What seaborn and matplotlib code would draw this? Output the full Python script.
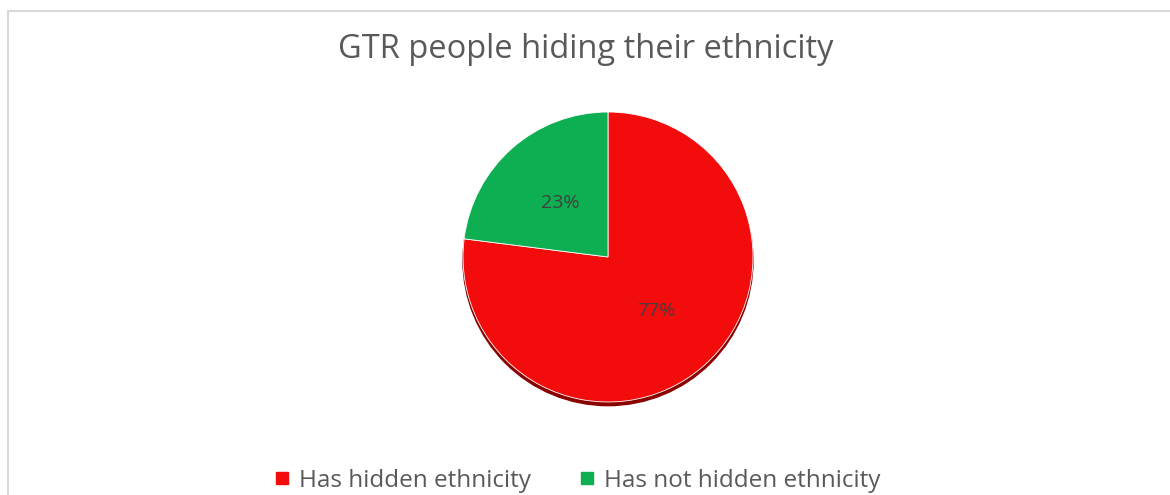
import matplotlib
matplotlib.use("Agg")
import matplotlib.pyplot as plt
import seaborn as sns
from matplotlib.patches import Rectangle, Circle
from matplotlib.lines import Line2D

# Chart data
labels = ["Has hidden ethnicity", "Has not hidden ethnicity"]
shares = [77, 23]
colors = ["#f20c0c", "#0daf52"]
title = "GTR people hiding their ethnicity"

sns.set_theme(style="white")
plt.rcParams["font.family"] = ["Open Sans", "DejaVu Sans"]

W, H = 1170, 495
fig = plt.figure(figsize=(W / 100, H / 100), dpi=100)

# light grey chart border (cut off at right and bottom)
fig.patches.append(Rectangle((8 / W, -0.05), 1.1, (495 - 11) / H + 0.05,
                             transform=fig.transFigure, fill=False,
                             edgecolor="#d9d9d9", linewidth=1.5))

fig.text(586 / W, 1 - 50 / H, title, ha="center", va="center",
         fontsize=23.5, color="#595959")

# pie axes: centre (608, 257), radius 145 px
r = 145
ax = fig.add_axes([(608 - r) / W, (H - 257 - r) / H, 2 * r / W, 2 * r / H])
shadow = Circle((0, -0.025), 1.0, color="#8a0000", zorder=0)
shadow.set_clip_on(False)
ax.add_patch(shadow)
wedges, texts, autotexts = ax.pie(
    shares, colors=colors, startangle=90, counterclock=False,
    autopct="%d%%", pctdistance=0.5, radius=1.0,
    wedgeprops=dict(edgecolor="white", linewidth=0.6),
    textprops=dict(fontsize=14, color="#404040"))
for w in wedges:
    w.set_clip_on(False)
ax.set_xlim(-1, 1)
ax.set_ylim(-1, 1)
ax.set_aspect("equal")
ax.axis("off")

handles = [Line2D([0], [0], marker="s", linestyle="", markersize=8,
                  markerfacecolor=c, markeredgecolor=c) for c in colors]
fig.legend(handles, labels, loc="center",
           bbox_to_anchor=(0.5 - 9 / W, 1 - 481 / H),
           ncol=2, frameon=False, fontsize=17.5, labelcolor="#595959",
           handletextpad=0.3, columnspacing=1.9, handlelength=0.8,
           borderpad=0.2)

fig.savefig("out.png", dpi=100, facecolor="white")
